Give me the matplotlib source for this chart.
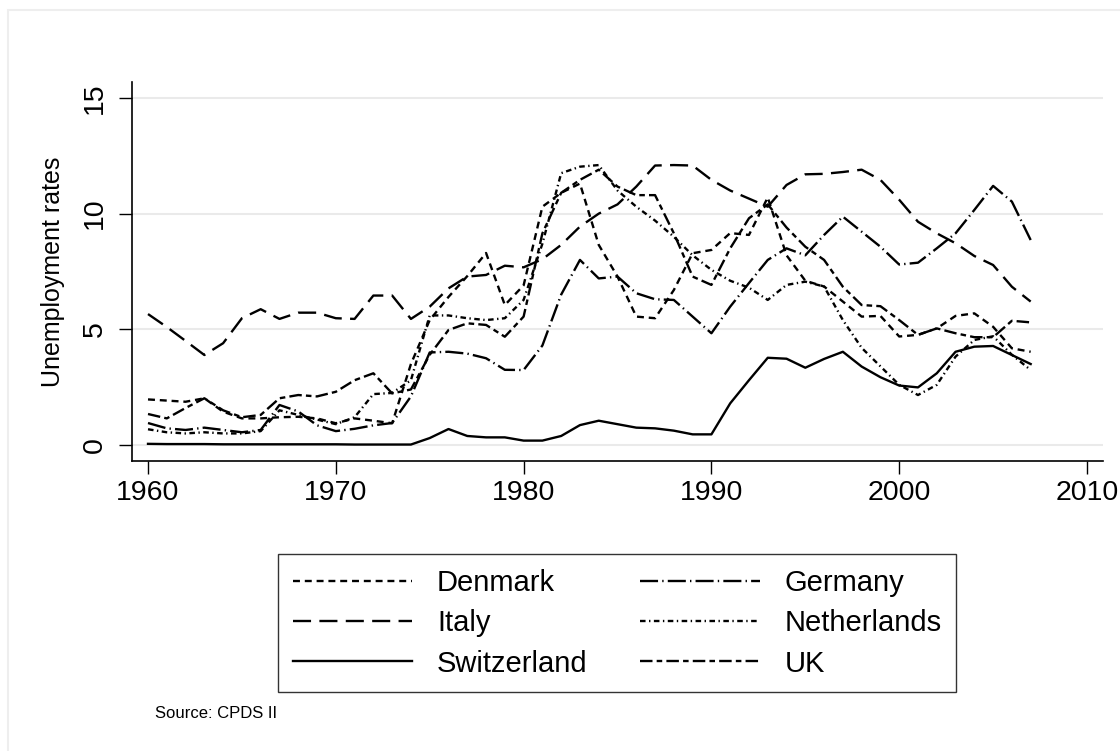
import numpy as np
import matplotlib
matplotlib.use("Agg")
import matplotlib.pyplot as plt
from matplotlib.patches import Rectangle

plt.rcParams['font.family'] = ['Liberation Sans', 'DejaVu Sans']
plt.rcParams['lines.scale_dashes'] = False

# unemployment rates, 1960-2007
years = list(range(1960, 2008))

denmark = [1.97, 1.92, 1.87, 2.02, 1.44, 1.15, 1.15, 1.2, 1.22, 1.15,
           0.94, 1.15, 1.05, 0.94, 3.5, 5.4, 6.4, 7.3, 8.3, 6.05,
           6.9, 10.3, 10.9, 11.3, 8.65, 7.28, 5.55, 5.48, 6.7, 8.29,
           8.43, 9.16, 9.08, 10.7, 8.2, 7.1, 6.85, 6.2, 5.55, 5.58,
           4.69, 4.76, 5.04, 5.58, 5.69, 5.11, 4.18, 4.03]
germany = [0.95, 0.72, 0.65, 0.75, 0.65, 0.55, 0.65, 1.73, 1.45, 0.85,
           0.6, 0.7, 0.85, 0.95, 2.1, 4.0, 4.03, 3.95, 3.75, 3.25,
           3.24, 4.3, 6.5, 8.0, 7.2, 7.28, 6.56, 6.3, 6.27, 5.55,
           4.83, 5.98, 7.0, 8.0, 8.5, 8.2, 9.08, 9.87, 9.22, 8.57,
           7.8, 7.88, 8.5, 9.15, 10.16, 11.2, 10.52, 8.86]
italy = [5.66, 5.1, 4.5, 3.89, 4.4, 5.48, 5.87, 5.45, 5.72, 5.72,
         5.48, 5.45, 6.46, 6.46, 5.45, 5.98, 6.77, 7.28, 7.35, 7.75,
         7.68, 8.03, 8.65, 9.44, 10.0, 10.4, 11.17, 12.08, 12.1, 12.08,
         11.46, 11.0, 10.65, 10.3, 11.24, 11.7, 11.72, 11.8, 11.9, 11.46,
         10.6, 9.65, 9.15, 8.72, 8.17, 7.78, 6.84, 6.2]
netherlands = [0.68, 0.55, 0.5, 0.55, 0.5, 0.5, 0.6, 1.5, 1.3, 1.1,
               0.9, 1.2, 2.2, 2.25, 2.8, 5.6, 5.6, 5.48, 5.4, 5.48,
               6.27, 8.7, 11.75, 12.03, 12.1, 11.0, 10.3, 9.7, 9.0, 8.2,
               7.57, 7.1, 6.8, 6.27, 6.92, 7.06, 6.85, 5.4, 4.2, 3.4,
               2.6, 2.16, 2.6, 3.82, 4.54, 4.7, 3.9, 3.24]
switzerland = [0.05, 0.04, 0.04, 0.04, 0.03, 0.03, 0.03, 0.03, 0.03, 0.03,
               0.03, 0.02, 0.02, 0.02, 0.02, 0.3, 0.69, 0.39, 0.33, 0.33,
               0.19, 0.19, 0.39, 0.86, 1.05, 0.9, 0.75, 0.72, 0.62, 0.46,
               0.46, 1.8, 2.8, 3.77, 3.73, 3.34, 3.72, 4.03, 3.39, 2.93,
               2.57, 2.49, 3.1, 4.03, 4.25, 4.28, 3.89, 3.5]
uk = [1.34, 1.15, 1.6, 2.02, 1.5, 1.2, 1.3, 2.02, 2.16, 2.1,
      2.3, 2.8, 3.1, 2.23, 2.4, 3.9, 4.97, 5.26, 5.19, 4.68,
      5.55, 9.15, 10.9, 11.46, 11.9, 11.17, 10.8, 10.8, 9.15, 7.28,
      6.92, 8.5, 9.8, 10.4, 9.4, 8.57, 8.0, 6.84, 6.05, 6.0,
      5.4, 4.76, 5.04, 4.83, 4.66, 4.66, 5.37, 5.3]

fig = plt.figure(figsize=(11.2, 7.51), dpi=100)
ax = fig.add_axes([0.1179, 0.3862, 0.8669, 0.5046])

lw = 1.7
ax.plot(years, denmark, color='k', lw=lw, dashes=(5, 3.5), label='Denmark')
ax.plot(years, germany, color='k', lw=lw, dashes=(13, 3, 1, 3), label='Germany')
ax.plot(years, italy, color='k', lw=lw, dashes=(13, 6), label='Italy')
ax.plot(years, netherlands, color='k', lw=lw, dashes=(4, 2.5, 1, 2.5), label='Netherlands')
ax.plot(years, switzerland, color='k', lw=lw, label='Switzerland')
ax.plot(years, uk, color='k', lw=lw, dashes=(9, 3, 4, 3), label='UK')

ax.set_xlim(1959.15, 2010.85)
ax.set_ylim(-0.69, 15.69)
ax.set_xticks([1960, 1970, 1980, 1990, 2000, 2010])
ax.set_yticks([0, 5, 10, 15])
ax.grid(axis='y', color='#eaeaea', lw=1.5)
ax.set_axisbelow(True)
for s in ['top', 'right']:
    ax.spines[s].set_visible(False)
for s in ['left', 'bottom']:
    ax.spines[s].set_linewidth(1.2)
ax.tick_params(axis='both', length=9.5, width=1.0, labelsize=20.5)
ax.tick_params(axis='x', pad=4)
ax.tick_params(axis='y', pad=8)
for t in ax.get_yticklabels():
    t.set_rotation(90)
    t.set_va('center')
ax.set_ylabel('Unemployment rates', fontsize=18, labelpad=12)

# legend in two columns, same order as the original
h, l = ax.get_legend_handles_labels()
order = [0, 2, 4, 1, 3, 5]
leg = fig.legend([h[i] for i in order], [l[i] for i in order], ncol=2,
                 loc='center', bbox_to_anchor=(0.551, 0.170), fontsize=21,
                 handlelength=4.1, handletextpad=0.85, columnspacing=1.8,
                 labelspacing=0.42, borderpad=0.5, fancybox=False)
leg.get_frame().set_edgecolor('k')
leg.get_frame().set_linewidth(1.0)

fig.text(155 / 1120, 1 - 713 / 751, 'Source: CPDS II', fontsize=12, va='center')

fig.patches.append(Rectangle((8 / 1120, -0.1), 1.2, 1 - 10 / 751 + 0.1,
                             transform=fig.transFigure, fill=False,
                             edgecolor='#eeeeee', lw=1.5))

fig.savefig('out.png', dpi=100)
